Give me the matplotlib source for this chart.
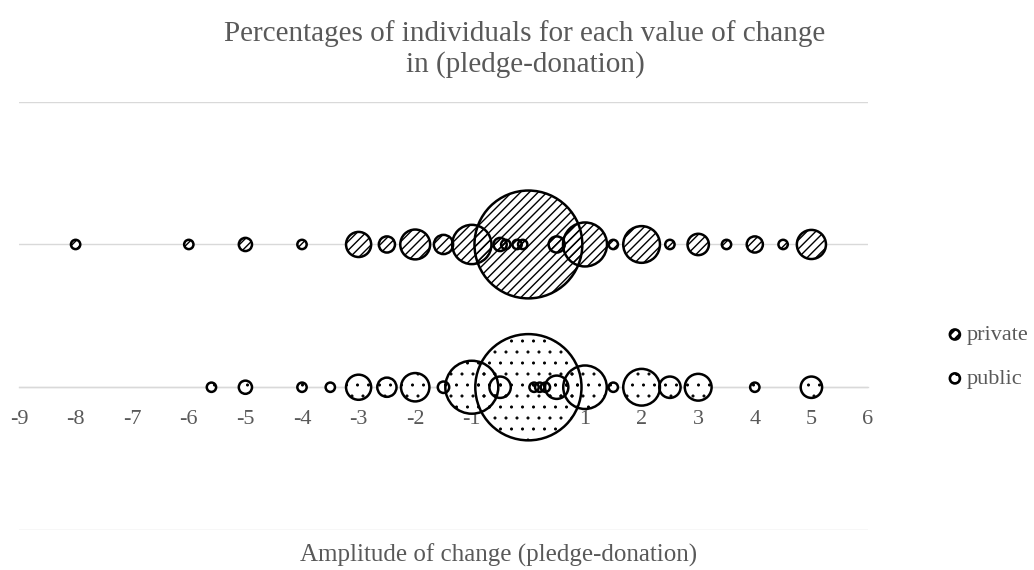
import matplotlib
matplotlib.use("Agg")
import matplotlib.pyplot as plt

# figure is 1034x570 px; a higher dpi is used so that the hatch tile
# (one inch) gives the fine pattern spacing of the reference
DPI = 132
F = 100 / DPI          # converts "points at 100 dpi" into points at DPI

plt.rcParams['font.family'] = ['Liberation Serif', 'DejaVu Serif']
plt.rcParams['hatch.color'] = '#222222'

# ---- data (percent of individuals per change value) ----
private_x = [-8, -6, -5, -4, -3, -2.5, -2, -1.5, -1, -0.5, -0.4, -0.2, -0.1,
             0, 0.5, 1, 1.5, 2, 2.5, 3, 3.5, 4, 4.5, 5]
private_pct = [0.4, 0.4, 0.8, 0.4, 2.9, 1.2, 4.1, 1.7, 7.1, 0.8, 0.4, 0.4, 0.4,
               53.5, 1.2, 8.9, 0.4, 6.2, 0.4, 2.1, 0.4, 1.2, 0.4, 3.9]
public_x = [-5.6, -5, -4, -3.5, -3, -2.5, -2, -1.5, -1, -0.5,
            0, 0.1, 0.2, 0.3, 0.5, 1, 1.5, 2, 2.5, 3, 4, 5]
public_pct = [0.4, 0.8, 0.4, 0.4, 2.9, 1.7, 3.7, 0.6, 12.9, 2.1,
              51.9, 0.4, 0.4, 0.4, 2.5, 8.7, 0.4, 6.2, 2.1, 3.3, 0.4, 2.1]
series_names = ['private', 'public']
series_rows = [1, 0]
x_ticks = list(range(-9, 7))

title = "Percentages of individuals for each value of change\nin (pledge-donation)"
xlabel = "Amplitude of change (pledge-donation)"

SIZE_PER_PCT = 112.7 * F * F   # points^2 per percent
GRAY = '#595959'
GRID = '#d9d9d9'

W, H = 1034, 570
fig = plt.figure(figsize=(W / DPI, H / DPI), dpi=DPI)
ax = fig.add_axes([19 / W, 40 / H, (868 - 19) / W, (530 - 101.7) / H])
ax.set_xlim(-9, 6)
ax.set_ylim(-1, 2)
for k in ['top', 'left', 'right']:
    ax.spines[k].set_visible(False)
ax.spines['bottom'].set_position(('data', 0))
ax.spines['bottom'].set_color(GRID)
ax.spines['bottom'].set_linewidth(1.0 * F)
ax.spines['bottom'].set_zorder(0.5)
ax.set_yticks([-1, 0, 1, 2])
ax.yaxis.grid(True, color=GRID, lw=1.0 * F, zorder=0)
ax.set_axisbelow(True)
ax.tick_params(axis='y', left=False, labelleft=False)
ax.set_xticks(x_ticks)
ax.set_xticklabels([str(t) for t in x_ticks])
ax.tick_params(axis='x', bottom=False, labelsize=16 * F, labelcolor=GRAY,
               pad=12 * F)

hatches = ['/////', '..']
hatch_lw = [1.0 * F, 0.6 * F]
data = [(private_x, private_pct), (public_x, public_pct)]

# white backgrounds first, then hatches/edges on top
for (xs, ps), row in zip(data, series_rows):
    ax.scatter(xs, [row] * len(xs), s=[p * SIZE_PER_PCT for p in ps],
               facecolor='white', edgecolor='none', zorder=2)
handles = []
for (xs, ps), row, h, hl, name in zip(data, series_rows, hatches, hatch_lw,
                                      series_names):
    with plt.rc_context({'hatch.linewidth': hl}):
        ax.scatter(xs, [row] * len(xs), s=[p * SIZE_PER_PCT for p in ps],
                   facecolor='none', edgecolor='black', linewidths=1.8 * F,
                   hatch=h, zorder=3)
        handles.append(ax.scatter([], [], s=52 * F * F, facecolor='white',
                                  edgecolor='black', linewidths=1.9 * F,
                                  hatch=h, label=name))

fig.text(525 / W, 1 - 49 / H, title, ha='center', va='center', fontsize=21 * F,
         color=GRAY, linespacing=1.2)
fig.text(499 / W, 1 - 555 / H, xlabel, ha='center', va='center',
         fontsize=18 * F, color=GRAY)

fig.legend(handles=handles, labels=series_names, loc='center left',
           bbox_to_anchor=(946 / W, 1 - 357 / H), frameon=False,
           fontsize=16 * F, handlelength=0.8, handletextpad=0.15,
           labelspacing=1.05, borderpad=0, borderaxespad=0, labelcolor=GRAY,
           scatterpoints=1)

fig.savefig('out.png', dpi=DPI)
